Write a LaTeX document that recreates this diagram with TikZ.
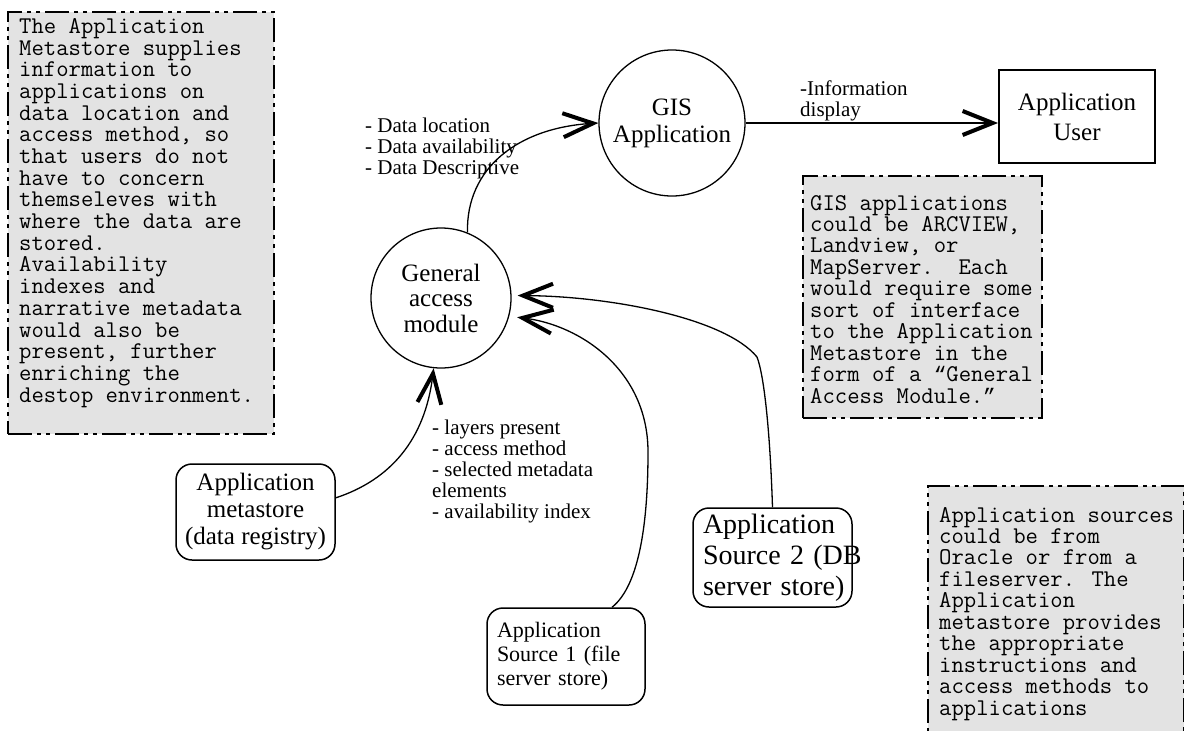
\documentclass[tikz,border=0pt]{standalone}
\usepackage{fontspec}
\setmainfont{Liberation Serif}
\newfontfamily\qfont{Liberation Mono}
\usetikzlibrary{arrows.meta,calc}
\definecolor{notegray}{RGB}{227,227,227}
\tikzset{
  notebox/.style={draw=black, fill=notegray, line width=2.4pt,
    dash pattern=on 24pt off 5pt on 4pt off 5pt on 4pt off 5pt,
    inner sep=0pt, anchor=north west},
  bubble/.style={draw, circle, line width=1.3pt, inner sep=0pt, align=center,
    font=\fontsize{25}{27}\selectfont},
  conn/.style={line width=1.3pt, -{Straight Barb[length=30pt,width=24pt,line width=4pt]}},
  rbox/.style={draw, rounded corners=16pt, line width=1.5pt},
  lbl/.style={anchor=base west, inner sep=0pt},
}
\newcommand\notetxt[3]{\parbox[t]{#1}{\raggedright\fontsize{24}{#2}\selectfont\ttfamily #3}}
\newcommand\lbltxt[1]{\parbox[t]{250pt}{\raggedright\fontsize{21}{21}\selectfont #1}}
\newcommand\cq[1]{{\qfont\fontsize{21}{21}\selectfont #1}}
\begin{document}
\begin{tikzpicture}[x=1pt,y=-1pt]
\useasboundingbox (0,0) rectangle (1184,731);
\clip (0,0) rectangle (1184,731);

% notes
\node[notebox, minimum width=266pt, minimum height=422pt] (noteA) at (7,11) {};
\node[lbl] (noteAtxt) at (19,33.5) {\notetxt{260pt}{21.68}{The Application\\Metastore supplies\\information to\\applications on\\data location and\\access method, so\\that users do not\\have to concern\\themseleves with\\where the data are\\stored.\\Availability\\indexes and\\narrative metadata\\would also be\\present, further\\enriching the\\destop environment.}};

\node[notebox, minimum width=239pt, minimum height=242pt] (noteB) at (802,175) {};
\node[lbl] (noteBtxt) at (810,210) {\notetxt{250pt}{21.45}{GIS applications\\could be ARCVIEW,\\Landview, or\\MapServer.\ \ Each\\would require some\\sort of interface\\to the Application\\Metastore in the\\form of a \cq{“}General\\Access Module.\cq{”}}};

\node[notebox, minimum width=256pt, minimum height=262pt] (noteC) at (927,485) {};
\node[lbl] (noteCtxt) at (939,522) {\notetxt{250pt}{21.45}{Application sources\\could be from\\Oracle or from a\\fileserver. The\\Application\\metastore provides\\the appropriate\\instructions and\\access methods to\\applications}};

% main nodes
\node[bubble, minimum size=146pt] (gis) at (672,123) {GIS\\Application};
\node[bubble, minimum size=140pt, font=\fontsize{25}{25.5}\selectfont] (gam) at (441,298) {General\\access\\module};
\node[draw, line width=2pt, minimum width=156pt, minimum height=93pt, align=center,
  font=\fontsize{25}{30}\selectfont] (user) at (1077,116.5) {Application\\User};
\node[rbox, minimum width=159pt, minimum height=96pt, align=center,
  font=\fontsize{25}{27}\selectfont] (meta) at (255.5,512) {Application\\metastore\\(data registry)};
\node[rbox, minimum width=158pt, minimum height=97pt, text width=138pt, align=left,
  font=\fontsize{22}{24}\selectfont] (src1) at (566,656.5) {Application\\Source 1 (file\\server store)};
\node[rbox, minimum width=159pt, minimum height=99pt, text width=139pt, align=left,
  font=\fontsize{28}{31}\selectfont] (src2) at (772.5,557.5) {Application\\\mbox{Source 2 (DB}\\\mbox{server store)}};

% labels
\node[lbl] (dataLbl) at (365,132) {\lbltxt{- Data location\\- Data availability\\- Data Descriptive}};
\node[lbl] (infoLbl) at (800,95) {\lbltxt{-Information\\display}};
\node[lbl] (layersLbl) at (432,434) {\lbltxt{- layers present\\- access method\\- selected metadata\\elements\\- availability index}};

% connectors
\draw[conn] (gam.68) .. controls (466,168) and (518,128) .. (gis.west);
\draw[conn] (gis.east) -- (gis.east -| user.west);
\draw[conn] (meta.10) .. controls (390,480) and (425,440) .. (gam.-96);
\draw[conn, shorten >=8pt] ($(src1.north)+(46,0)$) .. controls (640,585) and (648,520) .. (648,452)
   .. controls (648,370) and (580,325) .. (gam.-15);
\draw[conn, shorten >=6pt] (src2.north) .. controls (770,430) and (764,375) .. (757,357)
   .. controls (725,318) and (610,296) .. (gam.2);
\end{tikzpicture}
\end{document}
